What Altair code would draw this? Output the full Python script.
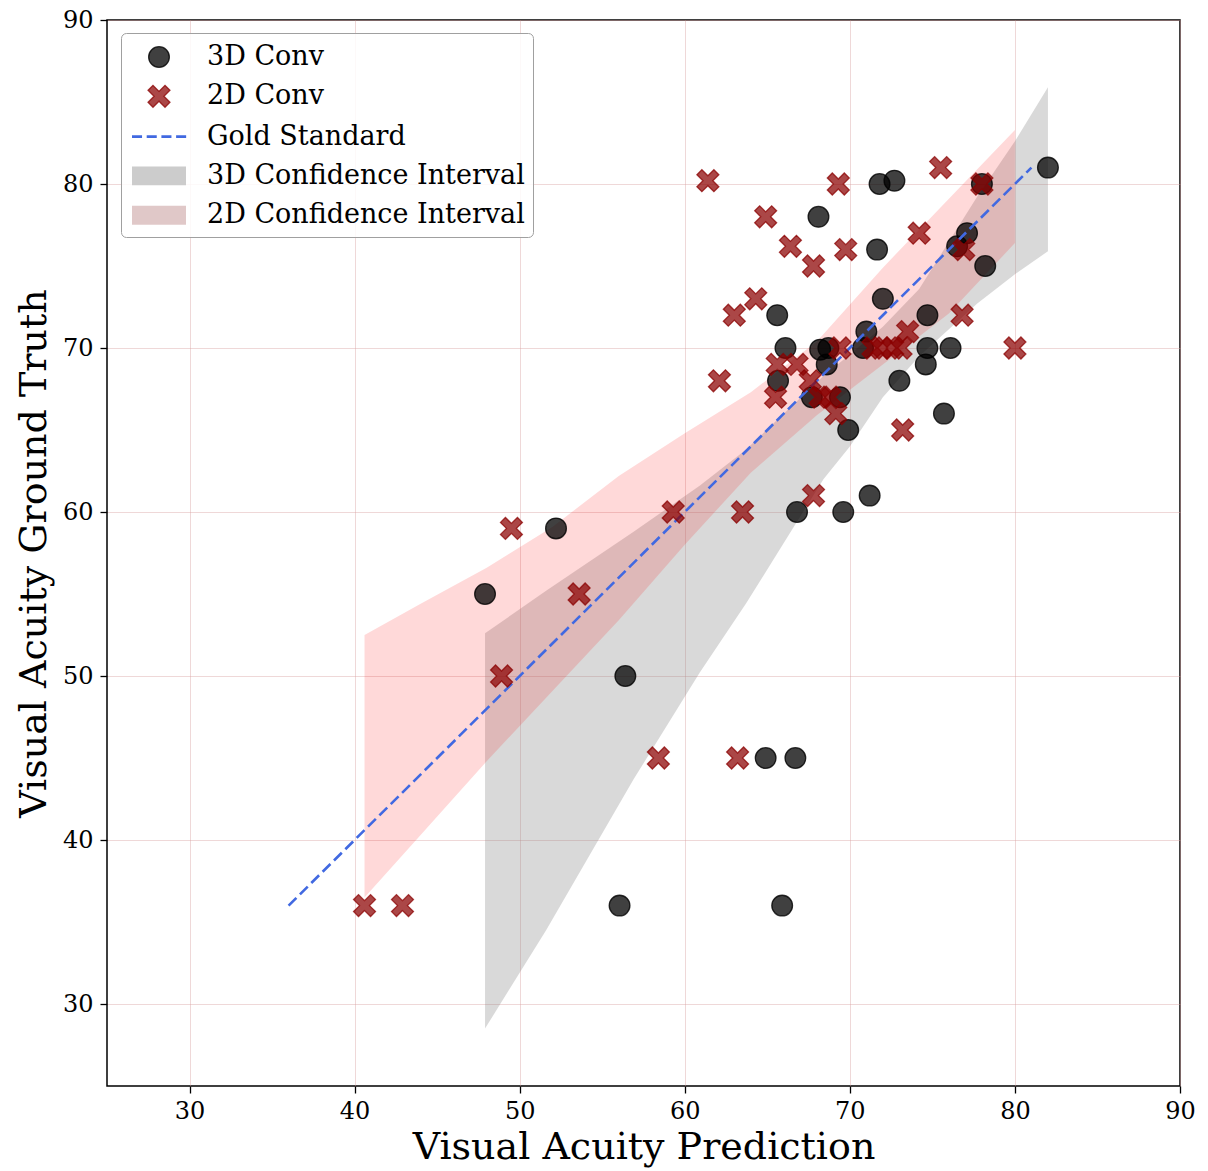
import math
import altair as alt
import pandas as pd

# 3D convolutional model: predicted vs. ground-truth acuity
conv3d_pred = [82.0, 71.8, 72.7, 78.0, 68.1, 71.65, 77.1, 76.5, 78.2, 72.0,
               65.6, 74.7, 71.0, 66.1, 68.2, 68.7, 70.8, 74.7, 76.1, 68.6,
               74.6, 65.65, 73.0, 67.7, 69.4, 75.7, 69.9, 71.2, 66.8, 69.6,
               52.2, 47.9, 56.4, 64.9, 66.7, 56.05, 65.9]
conv3d_true = [81, 80, 80.2, 80, 78, 76, 77, 76.2, 75, 73,
               72, 72, 71, 70, 69.9, 70, 70, 70, 70, 69,
               69, 68, 68, 67, 67, 66, 65, 61, 60, 60,
               59, 55, 50, 45, 45, 36, 36]

# 2D convolutional model
conv2d_pred = [75.5, 78.0, 61.4, 69.3, 64.9, 74.2, 66.4, 69.75, 76.9, 67.8,
               64.3, 63.0, 76.8, 73.5, 69.4, 71.4, 71.9, 72.6, 73.1, 80.0,
               65.6, 66.8, 62.1, 67.6, 65.5, 68.2, 68.8, 69.15, 73.2, 67.8,
               59.3, 63.5, 49.5, 53.6, 48.9, 58.4, 63.2, 40.6, 42.9]
conv2d_true = [81, 80, 80.2, 80, 78, 77, 76.2, 76, 76, 75,
               73, 72, 72, 71, 70, 70, 70, 70, 70, 70,
               69, 69, 68, 68, 67, 67, 67, 66, 65, 61,
               60, 60, 59, 55, 50, 45, 45, 36, 36]

# Identity (gold standard) line
gold_x = [36, 81]

# Confidence bands
ci3d_x = [47.9, 51.6, 56.9, 60.9, 63.7, 68.4, 70.0, 72.0, 74.2, 77.7, 80.0, 82.0]
ci3d_lo = [28.5, 34.5, 43.7, 50.2, 54.4, 62.0, 64.0, 67.0, 69.5, 72.7, 74.5, 75.9]
ci3d_hi = [52.6, 55.2, 58.8, 61.6, 63.8, 68.3, 69.6, 71.3, 73.6, 79.2, 82.6, 85.9]

ci2d_x = [40.6, 44.0, 48.0, 52.0, 56.0, 60.0, 64.0, 68.0, 72.0, 76.0, 80.0]
ci2d_lo = [36.5, 40.3, 44.8, 49.1, 53.4, 58.0, 62.4, 65.9, 69.0, 72.1, 76.4]
ci2d_hi = [52.5, 54.4, 56.6, 59.1, 62.2, 64.8, 67.3, 70.4, 74.9, 79.1, 83.3]

series_names = ["3D Conv", "2D Conv", "Gold Standard",
                "3D Confidence Interval", "2D Confidence Interval"]
ticks = [30, 40, 50, 60, 70, 80, 90]

SERIF = "DejaVu Serif"


def fmt(v):
    return f"{v:.3f}"


def poly(points):
    return "M " + " L ".join(f"{fmt(x)} {fmt(y)}" for x, y in points) + " Z"


# filled "X" marker: a plus sign rotated by 45 degrees
w, L, k = 0.292, 1.0, 0.8
plus = [(w, w), (w, L), (-w, L), (-w, w), (-L, w), (-L, -w), (-w, -w),
        (-w, -L), (w, -L), (w, -w), (L, -w), (L, w)]
x_path = poly([((px - py) / math.sqrt(2) * k, (px + py) / math.sqrt(2) * k)
               for px, py in plus])

r = 0.69
circle_path = (f"M {r} 0 A {r} {r} 0 1 1 {-r} 0 "
               f"A {r} {r} 0 1 1 {r} 0 Z")

# dashed-line swatch made of four short bars
d, g, h = 0.67, 0.31, 0.085
dash_parts = []
x0 = -1.8
for _ in range(4):
    dash_parts.append(poly([(x0, -h), (x0 + d, -h), (x0 + d, h), (x0, h)]))
    x0 += d + g
dash_path = " ".join(dash_parts)

rect_path = poly([(-1.8, -0.63), (1.8, -0.63), (1.8, 0.63), (-1.8, 0.63)])

shape_range = [circle_path, x_path, dash_path, rect_path, rect_path]
fill_range = ["rgba(0,0,0,0.75)", "rgba(139,0,0,0.72)", "#4169e1",
              "#cccccc", "#e0c8c8"]
stroke_range = ["rgba(0,0,0,0.8)", "rgba(139,0,0,0.75)", "transparent",
                "transparent", "transparent"]

df3 = pd.DataFrame({"x": conv3d_pred, "y": conv3d_true,
                    "series": ["3D Conv"] * len(conv3d_pred)})
df2 = pd.DataFrame({"x": conv2d_pred, "y": conv2d_true,
                    "series": ["2D Conv"] * len(conv2d_pred)})
dfg = pd.DataFrame({"x": gold_x, "y": gold_x})
dfc3 = pd.DataFrame({"x": ci3d_x, "lo": ci3d_lo, "hi": ci3d_hi})
dfc2 = pd.DataFrame({"x": ci2d_x, "lo": ci2d_lo, "hi": ci2d_hi})

x_scale = alt.Scale(domain=[25, 90], nice=False, zero=False)
y_scale = alt.Scale(domain=[25, 90], nice=False, zero=False)
x_axis = alt.Axis(values=ticks, title="Visual Acuity Prediction",
                  titlePadding=5, labelPadding=6, labelFlush=False)
y_axis = alt.Axis(values=ticks, title="Visual Acuity Ground Truth",
                  titlePadding=9, labelPadding=7, labelFlush=False)

legend = alt.Legend(
    title=None, orient="none", legendX=14, legendY=13,
    padding=8, fillColor="rgba(255,255,255,0.85)", strokeColor="#a0a0a0",
    cornerRadius=5, labelFont=SERIF, labelFontSize=27, labelColor="black",
    labelOffset=32, symbolOffset=14, rowPadding=10.3, symbolSize=900,
    symbolStrokeWidth=1.3, labelLimit=0,
)

enc_fill = alt.Fill("series:N", scale=alt.Scale(domain=series_names, range=fill_range),
                    legend=legend)
enc_stroke = alt.Stroke("series:N", scale=alt.Scale(domain=series_names, range=stroke_range),
                        legend=legend)
enc_shape = alt.Shape("series:N", scale=alt.Scale(domain=series_names, range=shape_range),
                      legend=legend)

band3d = alt.Chart(dfc3).mark_area(color="gray", opacity=0.3).encode(
    x=alt.X("x:Q", scale=x_scale, axis=x_axis),
    y=alt.Y("lo:Q", scale=y_scale, axis=y_axis),
    y2="hi:Q",
)
band2d = alt.Chart(dfc2).mark_area(color="red", opacity=0.15).encode(
    x=alt.X("x:Q", scale=x_scale),
    y=alt.Y("lo:Q", scale=y_scale),
    y2="hi:Q",
)

pts3d = alt.Chart(df3).mark_point(filled=True, size=900, strokeWidth=1.3, opacity=1).encode(
    x=alt.X("x:Q", scale=x_scale),
    y=alt.Y("y:Q", scale=y_scale),
    fill=enc_fill, stroke=enc_stroke, shape=enc_shape,
)
gold = alt.Chart(dfg).mark_line(color="#4169e1", strokeDash=[11, 5], strokeWidth=2.6).encode(
    x=alt.X("x:Q", scale=x_scale),
    y=alt.Y("y:Q", scale=y_scale),
)
pts2d = alt.Chart(df2).mark_point(filled=True, size=900, strokeWidth=1.3, opacity=1).encode(
    x=alt.X("x:Q", scale=x_scale),
    y=alt.Y("y:Q", scale=y_scale),
    fill=enc_fill, stroke=enc_stroke, shape=enc_shape,
)

chart = alt.layer(band3d, band2d, pts3d, gold, pts2d).properties(
    width=1073, height=1066,
    autosize=alt.AutoSizeParams(type="none"),
    padding={"left": 107, "top": 20, "right": 28, "bottom": 85},
    background="white",
).configure_view(
    stroke="black", strokeWidth=1.5,
).configure_axis(
    labelFont=SERIF, labelFontSize=24, labelColor="black",
    titleFont=SERIF, titleFontSize=38, titleFontWeight="normal", titleColor="black",
    tickColor="black", tickSize=7, tickWidth=1.3, domain=False,
    gridColor="#d9a0a0", gridWidth=0.6, gridOpacity=0.7,
)

chart.save("out.html", embed_options={"renderer": "svg", "actions": False})
